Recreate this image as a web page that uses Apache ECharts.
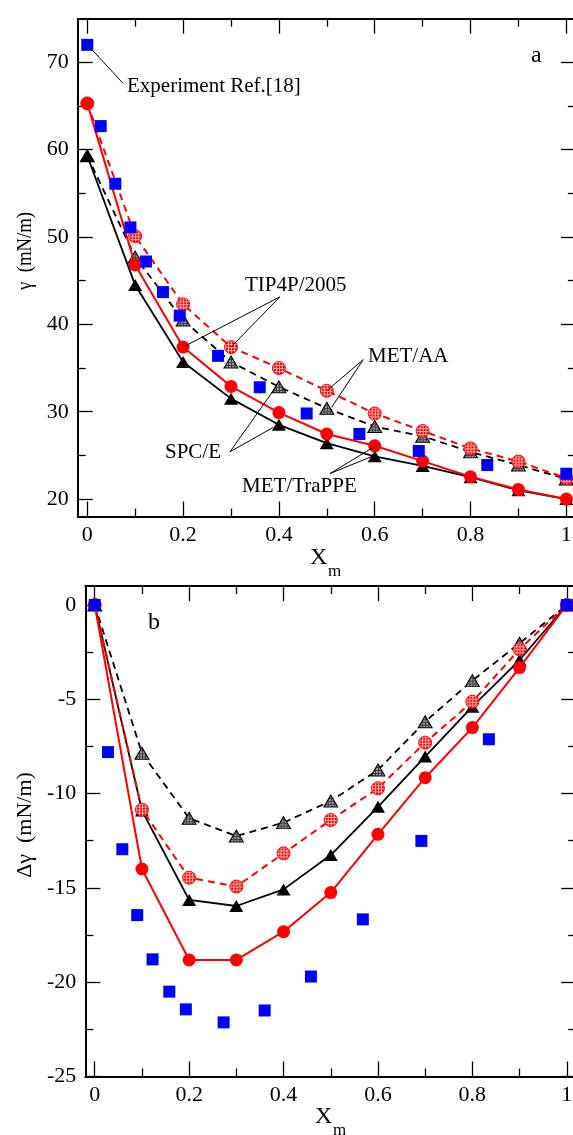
<!DOCTYPE html>
<html><head><meta charset="utf-8">
<script src="https://cdn.jsdelivr.net/npm/echarts@6/dist/echarts.min.js"></script>
<style>html,body{margin:0;padding:0;background:#fff}#c{width:573px;height:1135px}</style>
</head><body><div id="c"></div>
<script>
// ---- data ----
const xSim = [0, 0.1, 0.2, 0.3, 0.4, 0.5, 0.6, 0.7, 0.8, 0.9, 1.0];
const xExp = [0, 0.028, 0.0585, 0.09, 0.1225, 0.158, 0.193, 0.273, 0.36, 0.458, 0.568, 0.692, 0.835, 1.0];
const gammaExp = [72.0, 62.7, 56.1, 51.1, 47.2, 43.7, 41.0, 36.4, 32.8, 29.8, 27.45, 25.5, 23.9, 22.9];
const dGammaExp = [0, -7.8, -12.95, -16.44, -18.79, -20.5, -21.44, -22.13, -21.5, -19.7, -16.67, -12.51, -7.12, 0];

const gammaTipTraPPE = [65.3, 46.8, 37.4, 32.9, 29.9, 27.45, 26.1, 24.35, 22.55, 21.1, 20.0];
const gammaSpcTraPPE = [59.3, 44.5, 35.7, 31.5, 28.5, 26.4, 24.9, 23.8, 22.5, 21.0, 20.0];
const gammaTipAA = [65.3, 50.1, 42.3, 37.4, 35.0, 32.4, 29.8, 27.8, 25.8, 24.3, 22.4];
const gammaSpcAA = [59.3, 47.7, 40.5, 35.7, 32.85, 30.4, 28.3, 27.2, 25.4, 23.9, 22.3];

const dTipTraPPE = [0, -14.0, -18.82, -18.82, -17.32, -15.25, -12.16, -9.16, -6.5, -3.32, 0];
const dSpcTraPPE = [0, -10.9, -15.64, -15.96, -15.08, -13.26, -10.7, -8.04, -5.39, -2.92, 0];
const dTipAA = [0, -10.85, -14.46, -14.93, -13.17, -11.4, -9.72, -7.3, -5.13, -2.35, 0];
const dSpcAA = [0, -7.86, -11.31, -12.25, -11.54, -10.39, -8.75, -6.19, -4.01, -2.03, 0];

const xMajor = [0, 0.2, 0.4, 0.6, 0.8, 1];
const xMinor = [0.1, 0.3, 0.5, 0.7, 0.9];
const yTopMajor = [20, 30, 40, 50, 60, 70];
const yTopMinor = [25, 35, 45, 55, 65];
const yBotMajor = [-25, -20, -15, -10, -5, 0];
const yBotMinor = [-22.5, -17.5, -12.5, -7.5, -2.5];

// annotation leader lines (data coords)
const annTop = [
  [[0.004, 71.8], [0.0745, 67.6]],
  [[0.402, 43.15], [0.2, 37.4]],
  [[0.402, 43.15], [0.3, 37.4]],
  [[0.576, 35.96], [0.5, 32.4]],
  [[0.576, 35.96], [0.51, 30.5]],
  [[0.298, 25.42], [0.392, 32.7]],
  [[0.298, 25.42], [0.388, 28.2]],
  [[0.5067, 22.92], [0.604, 26.16]],
  [[0.5067, 22.92], [0.6006, 25.02]]
];

// ---- styling helpers ----
const FONT = '"Liberation Serif", "DejaVu Serif", serif';
const CIRC = 13, TRI = [14, 12];
function pattern(bg, fg, size, sx, sy) {
  const c = document.createElement('canvas');
  c.width = c.height = size;
  const g = c.getContext('2d');
  g.fillStyle = bg; g.fillRect(0, 0, size, size);
  g.fillStyle = fg; g.fillRect(0, 0, size, 1); g.fillRect(0, 0, 1, size);
  // symbols are drawn in a unit space scaled by size/2, so counter-scale the pattern
  return { image: c, repeat: 'repeat', scaleX: sx, scaleY: sy };
}
const redHatch = pattern('#ff0000', '#ffb0b0', 3, 2 / CIRC, 2 / CIRC);
const greyHatch = pattern('#9a9a9a', '#3c3c3c', 3, 2 / TRI[0], 2 / TRI[1]);

function axisSet(dim, grid, min, max, major, minor) {
  const isX = dim === 'x';
  const pos1 = isX ? 'bottom' : 'left', pos2 = isX ? 'top' : 'right';
  const base = { gridIndex: grid, type: 'value', min: min, max: max, splitLine: { show: false } };
  const tickStyle = { color: '#000', width: 1.3 };
  const mk = (pos, vals, len, label, line) => Object.assign({}, base, {
    position: pos,
    axisLine: { show: line, onZero: false, lineStyle: { color: '#000', width: 2 } },
    axisTick: { show: true, inside: true, length: len, customValues: vals, lineStyle: tickStyle },
    axisLabel: label ? { show: true, customValues: vals, fontSize: 22, fontFamily: 'Liberation Serif', color: '#000', margin: isX ? 8 : 9 } : { show: false }
  });
  return [mk(pos1, major, 15, true, true), mk(pos1, minor, 8, false, false),
          mk(pos2, major, 15, false, true), mk(pos2, minor, 8, false, false)];
}

const toPts = (xs, ys) => xs.map((x, i) => [x, ys[i]]);

function sim(xi, ys, kind) {
  const s = { type: 'line', xAxisIndex: xi, yAxisIndex: xi, data: toPts(xSim, ys), silent: true };
  if (kind === 'redSolid') Object.assign(s, { symbol: 'circle', symbolSize: CIRC, itemStyle: { color: '#ff0000', opacity: 1 }, lineStyle: { color: '#ff0000', width: 2 }, z: 3 });
  if (kind === 'redDash') Object.assign(s, { symbol: 'circle', symbolSize: CIRC, itemStyle: { color: redHatch, borderColor: '#ff0000', borderWidth: 1, opacity: 1 }, lineStyle: { color: '#ff0000', width: 2, type: [7, 5] }, z: 3 });
  if (kind === 'blackSolid') Object.assign(s, { symbol: 'triangle', symbolSize: TRI, itemStyle: { color: '#000', opacity: 1 }, lineStyle: { color: '#000', width: 1.8 }, z: 2 });
  if (kind === 'greyDash') Object.assign(s, { symbol: 'triangle', symbolSize: TRI, itemStyle: { color: greyHatch, borderColor: '#000', borderWidth: 1, opacity: 1 }, lineStyle: { color: '#000', width: 1.8, type: [7, 5] }, z: 2 });
  return s;
}

const textEl = (x, y, text, size, extra) => Object.assign({
  type: 'text', x: x, y: y, z: 100,
  style: { text: text, font: size + 'px ' + FONT, fill: '#000', align: 'left', verticalAlign: 'middle' }
}, extra || {});

const chart = echarts.init(document.getElementById('c'), null, { renderer: 'canvas' });
chart.setOption({
  animation: false,
  backgroundColor: '#fff',
  grid: [
    { left: 77.7, top: 18.65, width: 498.2, height: 497.9, outerBoundsMode: 'none', containLabel: false },
    { left: 85.3, top: 586.1, width: 490.9, height: 490.4, outerBoundsMode: 'none', containLabel: false }
  ],
  xAxis: [].concat(axisSet('x', 0, -0.02, 1.02, xMajor, xMinor), axisSet('x', 1, -0.02, 1.02, xMajor, xMinor)),
  yAxis: [].concat(axisSet('y', 0, 18, 75, yTopMajor, yTopMinor), axisSet('y', 1, -25, 1, yBotMajor, yBotMinor)),
  series: [
    sim(0, gammaSpcAA, 'greyDash'),
    sim(0, gammaSpcTraPPE, 'blackSolid'),
    sim(0, gammaTipAA, 'redDash'),
    sim(0, gammaTipTraPPE, 'redSolid'),
    {
      type: 'scatter', xAxisIndex: 0, yAxisIndex: 0, data: toPts(xExp, gammaExp), symbol: 'rect', symbolSize: 12,
      itemStyle: { color: '#0000ff', opacity: 1 }, z: 5, silent: true,
      markLine: {
        silent: true, symbol: ['none', 'none'], label: { show: false },
        lineStyle: { color: '#000', width: 1, type: 'solid', opacity: 1 }, z: 10,
        data: annTop.map(p => [{ coord: p[0] }, { coord: p[1] }])
      }
    },
    sim(4, dSpcAA, 'greyDash'),
    sim(4, dSpcTraPPE, 'blackSolid'),
    sim(4, dTipAA, 'redDash'),
    sim(4, dTipTraPPE, 'redSolid'),
    {
      type: 'scatter', xAxisIndex: 4, yAxisIndex: 4, data: toPts(xExp, dGammaExp), symbol: 'rect', symbolSize: 12,
      itemStyle: { color: '#0000ff', opacity: 1 }, z: 5, silent: true
    }
  ],
  graphic: [
    textEl(127, 86, 'Experiment Ref.[18]', 21),
    textEl(245, 285, 'TIP4P/2005', 21),
    textEl(368, 356, 'MET/AA', 21),
    textEl(165, 452, 'SPC/E', 21),
    textEl(242, 486, 'MET/TraPPE', 21),
    textEl(531, 56, 'a', 24),
    textEl(148, 623, 'b', 24),
    textEl(310, 558, 'X', 24),
    textEl(328, 572, 'm', 17),
    textEl(315, 1117, 'X', 24),
    textEl(333, 1131, 'm', 17),
    textEl(25, 251, 'γ  (mN/m)', 22, { rotation: Math.PI / 2, scaleX: 0.85, style: { text: 'γ  (mN/m)', font: '22px ' + FONT, fill: '#000', align: 'center', verticalAlign: 'middle' } }),
    textEl(25, 825, 'Δγ  (mN/m)', 22, { rotation: Math.PI / 2, style: { text: 'Δγ  (mN/m)', font: '22px ' + FONT, fill: '#000', align: 'center', verticalAlign: 'middle' } })
  ]
});
</script>
</body></html>
